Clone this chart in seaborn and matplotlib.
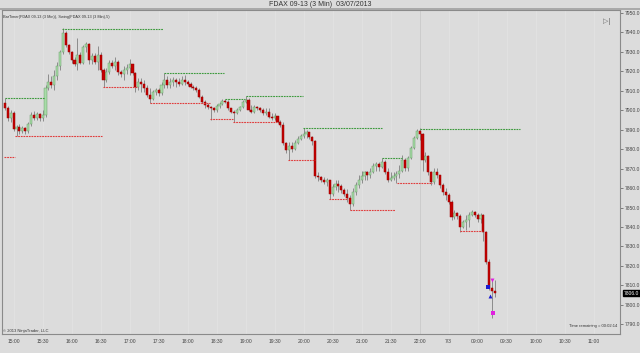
import numpy as np
import pandas as pd
import matplotlib
matplotlib.use("Agg")
import matplotlib.pyplot as plt
import seaborn as sns

# ---------------- data ----------------
opens = [7903.5, 7901.0, 7896.0, 7898.5, 7890.5, 7891.5, 7889.5, 7891.0, 7889.5, 7893.0,
         7897.5, 7896.0, 7898.0, 7896.0, 7897.5, 7911.5, 7914.5, 7913.0, 7917.5, 7922.5,
         7930.0, 7939.5, 7933.5, 7930.0, 7926.0, 7924.0, 7928.5, 7924.5, 7932.5, 7934.0,
         7926.0, 7928.0, 7925.0, 7928.5, 7920.5, 7915.5, 7919.5, 7924.5, 7922.5, 7925.0,
         7919.5, 7918.5, 7920.5, 7921.5, 7923.5, 7919.0, 7912.0, 7914.5, 7913.5, 7911.5,
         7908.0, 7906.0, 7909.5, 7910.5, 7909.0, 7913.0, 7915.5, 7913.0, 7914.5, 7915.5,
         7914.5, 7913.5, 7915.5, 7914.5, 7913.5, 7912.0, 7911.5, 7910.5, 7907.0, 7904.0,
         7902.5, 7901.5, 7901.0, 7900.0, 7902.0, 7903.0, 7904.5, 7904.0, 7901.0, 7899.0,
         7898.5, 7900.0, 7901.5, 7904.0, 7905.5, 7900.0, 7899.0, 7901.5, 7901.0, 7900.0,
         7898.5, 7899.0, 7896.5, 7896.0, 7897.0, 7894.0, 7892.5, 7883.0, 7879.5, 7881.5,
         7880.0, 7883.0, 7885.0, 7886.5, 7888.0, 7889.0, 7886.0, 7884.0, 7866.0, 7865.5,
         7864.0, 7863.0, 7864.0, 7857.0, 7860.5, 7862.0, 7861.0, 7859.0, 7857.0, 7855.0,
         7852.0, 7858.0, 7861.5, 7864.0, 7866.0, 7868.0, 7866.5, 7868.0, 7871.5, 7872.5,
         7871.0, 7873.5, 7868.0, 7864.0, 7865.0, 7866.0, 7867.0, 7869.0, 7874.5, 7870.5,
         7875.5, 7880.5, 7885.5, 7889.5, 7888.0, 7874.5, 7876.5, 7868.0, 7863.0, 7868.0,
         7866.5, 7861.5, 7858.0, 7856.5, 7853.0, 7845.0, 7847.0, 7845.5, 7840.0, 7842.5,
         7843.5, 7846.0, 7847.5, 7846.0, 7844.0, 7846.0, 7837.5, 7822.0, 7808.5, 7807.0]
highs = [7906.5, 7902.0, 7900.0, 7899.5, 7892.5, 7893.0, 7892.0, 7891.5, 7894.0, 7899.0,
         7899.5, 7899.0, 7898.5, 7900.0, 7913.0, 7918.5, 7917.5, 7920.5, 7925.0, 7931.0,
         7942.0, 7940.5, 7934.0, 7930.5, 7927.5, 7937.0, 7930.0, 7933.5, 7935.0, 7934.5,
         7929.5, 7929.5, 7933.0, 7930.0, 7921.5, 7921.5, 7926.0, 7926.0, 7927.5, 7926.0,
         7920.5, 7922.5, 7923.5, 7926.5, 7924.0, 7919.5, 7916.5, 7916.5, 7915.5, 7913.0,
         7911.5, 7910.5, 7911.5, 7911.5, 7914.5, 7919.0, 7917.5, 7916.5, 7917.0, 7916.5,
         7916.5, 7917.5, 7918.0, 7915.5, 7914.5, 7913.0, 7912.5, 7911.5, 7908.0, 7905.5,
         7903.5, 7902.0, 7901.5, 7903.0, 7904.0, 7906.0, 7906.0, 7905.5, 7901.0, 7900.0,
         7901.0, 7902.0, 7905.5, 7907.5, 7906.5, 7902.5, 7902.5, 7902.0, 7901.5, 7901.0,
         7901.0, 7901.0, 7898.5, 7898.5, 7897.0, 7895.0, 7894.0, 7883.5, 7883.5, 7883.5,
         7884.5, 7886.5, 7888.0, 7891.0, 7890.0, 7889.0, 7887.0, 7884.5, 7868.0, 7866.0,
         7865.5, 7865.0, 7864.0, 7862.0, 7864.0, 7864.0, 7862.0, 7860.0, 7859.5, 7856.5,
         7860.0, 7863.0, 7866.5, 7869.0, 7869.0, 7869.0, 7870.5, 7873.0, 7873.5, 7873.5,
         7875.5, 7874.5, 7870.5, 7868.0, 7868.0, 7869.0, 7872.0, 7877.0, 7875.5, 7876.5,
         7881.5, 7886.5, 7890.5, 7891.0, 7888.5, 7878.5, 7877.0, 7869.0, 7870.5, 7870.5,
         7866.5, 7862.5, 7860.0, 7857.5, 7854.0, 7848.5, 7847.5, 7846.5, 7843.5, 7846.0,
         7847.5, 7848.5, 7848.0, 7847.0, 7847.0, 7846.5, 7838.0, 7823.5, 7813.5, 7812.5]
lows = [7900.0, 7894.5, 7894.0, 7889.5, 7886.5, 7888.0, 7888.5, 7888.0, 7888.5, 7892.0,
        7895.0, 7895.0, 7894.5, 7894.5, 7896.5, 7910.5, 7911.5, 7910.5, 7915.5, 7920.5,
        7929.0, 7932.5, 7929.0, 7924.5, 7922.5, 7920.5, 7923.5, 7923.5, 7930.0, 7924.0,
        7924.0, 7923.5, 7920.5, 7919.5, 7912.0, 7914.5, 7918.5, 7921.5, 7920.5, 7918.0,
        7917.0, 7915.5, 7918.5, 7918.0, 7918.0, 7909.5, 7910.5, 7909.5, 7909.5, 7907.0,
        7903.5, 7905.5, 7908.0, 7907.5, 7908.0, 7911.5, 7911.5, 7911.5, 7912.5, 7912.0,
        7912.5, 7913.0, 7913.0, 7912.5, 7911.5, 7910.5, 7909.5, 7906.5, 7903.5, 7901.0,
        7900.5, 7895.0, 7899.0, 7899.0, 7901.0, 7902.5, 7903.5, 7900.0, 7898.5, 7894.0,
        7898.0, 7899.5, 7901.0, 7903.5, 7899.5, 7898.5, 7898.5, 7900.0, 7899.0, 7897.5,
        7897.5, 7896.0, 7895.0, 7895.0, 7893.5, 7891.5, 7882.0, 7878.0, 7874.5, 7878.5,
        7879.5, 7882.5, 7884.5, 7885.5, 7885.5, 7885.0, 7882.0, 7865.0, 7863.5, 7863.0,
        7862.0, 7861.0, 7854.5, 7856.0, 7859.0, 7858.0, 7857.5, 7856.0, 7853.0, 7848.5,
        7851.0, 7856.5, 7860.0, 7862.5, 7864.0, 7864.0, 7865.0, 7867.5, 7869.0, 7869.0,
        7870.5, 7867.0, 7863.0, 7863.5, 7864.0, 7862.5, 7865.0, 7868.0, 7869.0, 7869.0,
        7875.0, 7880.0, 7885.0, 7884.5, 7869.0, 7873.5, 7866.5, 7861.5, 7862.0, 7865.0,
        7860.0, 7856.5, 7854.0, 7852.0, 7843.5, 7844.0, 7844.0, 7837.5, 7839.5, 7838.5,
        7840.0, 7845.5, 7845.0, 7842.5, 7842.0, 7833.0, 7821.0, 7807.5, 7793.0, 7804.0]
closes = [7901.0, 7896.0, 7898.5, 7890.5, 7891.5, 7889.5, 7891.0, 7889.5, 7893.0, 7897.5,
          7896.0, 7898.0, 7896.0, 7897.5, 7911.5, 7914.5, 7913.0, 7917.5, 7922.5, 7930.0,
          7939.5, 7933.5, 7930.0, 7926.0, 7924.0, 7928.5, 7924.5, 7932.5, 7934.0, 7926.0,
          7928.0, 7925.0, 7928.5, 7920.5, 7915.5, 7919.5, 7924.5, 7922.5, 7925.0, 7919.5,
          7918.5, 7920.5, 7921.5, 7923.5, 7919.0, 7912.0, 7914.5, 7913.5, 7911.5, 7908.0,
          7906.0, 7909.5, 7910.5, 7909.0, 7913.0, 7915.5, 7913.0, 7914.5, 7915.5, 7914.5,
          7913.5, 7915.5, 7914.5, 7913.5, 7912.0, 7911.5, 7910.5, 7907.0, 7904.0, 7902.5,
          7901.5, 7901.0, 7900.0, 7902.0, 7903.0, 7904.5, 7904.0, 7901.0, 7899.0, 7898.5,
          7900.0, 7901.5, 7904.0, 7905.5, 7900.0, 7899.0, 7901.5, 7901.0, 7900.0, 7898.5,
          7899.0, 7896.5, 7896.0, 7897.0, 7894.0, 7892.5, 7883.0, 7879.5, 7881.5, 7880.0,
          7883.0, 7885.0, 7886.5, 7888.0, 7889.0, 7886.0, 7884.0, 7866.0, 7865.5, 7864.0,
          7863.0, 7864.0, 7857.0, 7860.5, 7862.0, 7861.0, 7859.0, 7857.0, 7855.0, 7852.0,
          7858.0, 7861.5, 7864.0, 7866.0, 7868.0, 7866.5, 7868.0, 7871.5, 7872.5, 7871.0,
          7873.5, 7868.0, 7864.0, 7865.0, 7866.0, 7867.0, 7869.0, 7874.5, 7870.5, 7875.5,
          7880.5, 7885.5, 7889.5, 7888.0, 7874.5, 7876.5, 7868.0, 7863.0, 7868.0, 7866.5,
          7861.5, 7858.0, 7856.5, 7853.0, 7845.0, 7847.0, 7845.5, 7840.0, 7842.5, 7843.5,
          7846.0, 7847.5, 7846.0, 7844.0, 7846.0, 7837.5, 7822.0, 7808.5, 7807.0, 7806.0]

# swing indicator levels (price) and their bar-index spans
swing_high_level = [7906.5, 7941.5, 7919.0, 7906.0, 7907.5, 7891.0, 7875.5, 7890.5]
swing_high_start = [0, 19.7, 54.8, 75.9, 83.1, 102.8, 130, 143]
swing_high_end = [13.8, 54.5, 75.5, 82.8, 102.8, 130, 137, 177.6]
swing_low_level = [7876.0, 7886.5, 7912.0, 7903.5, 7895.5, 7894.0, 7874.5, 7854.5, 7848.5, 7862.5, 7838.0]
swing_low_start = [-0.3, 3.4, 33.8, 50, 70.7, 78.6, 97.6, 111.7, 119, 135.2, 157]
swing_low_end = [3.4, 33.4, 45.5, 70.7, 78.6, 93.8, 107, 118, 134.5, 147.2, 164.5]

tick_labels = ["15:00", "15:30", "16:00", "16:30", "17:00", "17:30", "18:00", "18:30",
               "19:00", "19:30", "20:00", "20:30", "21:00", "21:30", "22:00", "7/3",
               "09:00", "09:30", "10:00", "10:30", "11:00"]
tick_bars = [3 + 10 * k for k in range(len(tick_labels))]
price_ticks = [7790 + 10 * k for k in range(17)]
last_price = 7806.0

df = pd.DataFrame({"open": opens, "high": highs, "low": lows, "close": closes})
df["bar"] = np.arange(len(df))

# ---------------- style ----------------
BG = "#dcdcdc"
sns.set_theme(style="white", rc={"axes.facecolor": BG, "figure.facecolor": BG})
plt.rcParams["font.family"] = ["Liberation Sans", "DejaVu Sans"]

fig = plt.figure(figsize=(6.4, 3.53), dpi=100)
ax = fig.add_axes([2 / 640, 1 - 334 / 353, 618 / 640, 324 / 353])

up = df[df.close >= df.open]
dn = df[df.close < df.open]

# wicks
ax.vlines(df.bar, df.low, df.high, color="#8c8c8c", lw=0.7, zorder=2)
# bodies
ax.bar(up.bar, up.close - up.open, bottom=up.open, width=0.7,
       color="#a8dca8", edgecolor="#6a9e6a", linewidth=0.35, zorder=3)
ax.bar(dn.bar, dn.close - dn.open, bottom=dn.open, width=0.7,
       color="#c40000", edgecolor="#9a0000", linewidth=0.35, zorder=3)

# swing lines
ax.hlines(swing_high_level, swing_high_start, swing_high_end, colors="#3c9a3c",
          linestyles=(0, (1.6, 0.8)), lw=0.8, zorder=4)
ax.hlines(swing_low_level, swing_low_start, swing_low_end, colors="#e03c3c",
          linestyles=(0, (1.6, 0.8)), lw=0.8, zorder=4)

# strategy markers near the last bars
sns.scatterplot(x=[166.6], y=[7809.0], marker="s", s=5, color="#1a1ad0", ax=ax, zorder=5, linewidth=0)
sns.scatterplot(x=[167.2], y=[7804.5], marker="^", s=8, color="#1a1ad0", ax=ax, zorder=5, linewidth=0)
sns.scatterplot(x=[168.0], y=[7813.0], marker="v", s=8, color="#e020e0", ax=ax, zorder=5, linewidth=0)
sns.scatterplot(x=[168.3], y=[7796.0], marker="s", s=5, color="#e020e0", ax=ax, zorder=5, linewidth=0)

# grid / session separator
for t in tick_bars:
    ax.axvline(t, color="#e4e4e4", lw=0.5, zorder=1)
ax.axvline(143, color="#c8c8c8", lw=0.6, zorder=1)

ax.set_xlim(-1.0, 212.1)
ax.set_ylim(7785.0, 7951.5)
ax.set_xticks(tick_bars)
ax.set_xticklabels(tick_labels)
ax.yaxis.tick_right()
ax.set_yticks(price_ticks)
ax.set_yticklabels([f"{v:.1f}" for v in price_ticks])
ax.tick_params(axis="both", labelsize=3.6, colors="#555555", length=2, width=0.5, pad=1.5)
ax.tick_params(axis="x", labelcolor="#444444")
ax.tick_params(axis="y", labelcolor="#444444")
for s in ax.spines.values():
    s.set_color("#8a8a8a")
    s.set_linewidth(0.8)
ax.set_xlabel("")
ax.set_ylabel("")

# current price tag
ax.annotate(f"{last_price:.1f}", xy=(1.0, last_price), xycoords=("axes fraction", "data"),
            xytext=(3, 0), textcoords="offset points", fontsize=3.6, color="white",
            va="center", ha="left", annotation_clip=False,
            bbox=dict(boxstyle="square,pad=0.15", fc="black", ec="black"))

# texts
fig.text(0.5, 1 - 4.5 / 353, "FDAX 09-13 (3 Min)  03/07/2013", ha="center", va="center",
         fontsize=5, color="#333333")
fig.add_artist(plt.Line2D([0, 1], [1 - 9 / 353, 1 - 9 / 353], color="#a0a0a0", lw=1.2))
ax.text(0.002, 0.985, "BarTimer(FDAX 09-13 (3 Min)), Swing(FDAX 09-13 (3 Min),5)",
        transform=ax.transAxes, fontsize=2.8, color="#333333", va="top", ha="left")
ax.text(0.002, 0.004, "\u00a9 2013 NinjaTrader, LLC", transform=ax.transAxes,
        fontsize=3, color="#333333", va="bottom", ha="left")
ax.text(0.995, 0.02, "Time remaining = 00:02:14", transform=ax.transAxes,
        fontsize=3, color="#333333", va="bottom", ha="right")
ax.text(0.985, 0.975, "\u25b7|", transform=ax.transAxes, fontsize=5, color="#666666",
        va="top", ha="right")

fig.savefig("out.png", dpi=100, facecolor=BG)
